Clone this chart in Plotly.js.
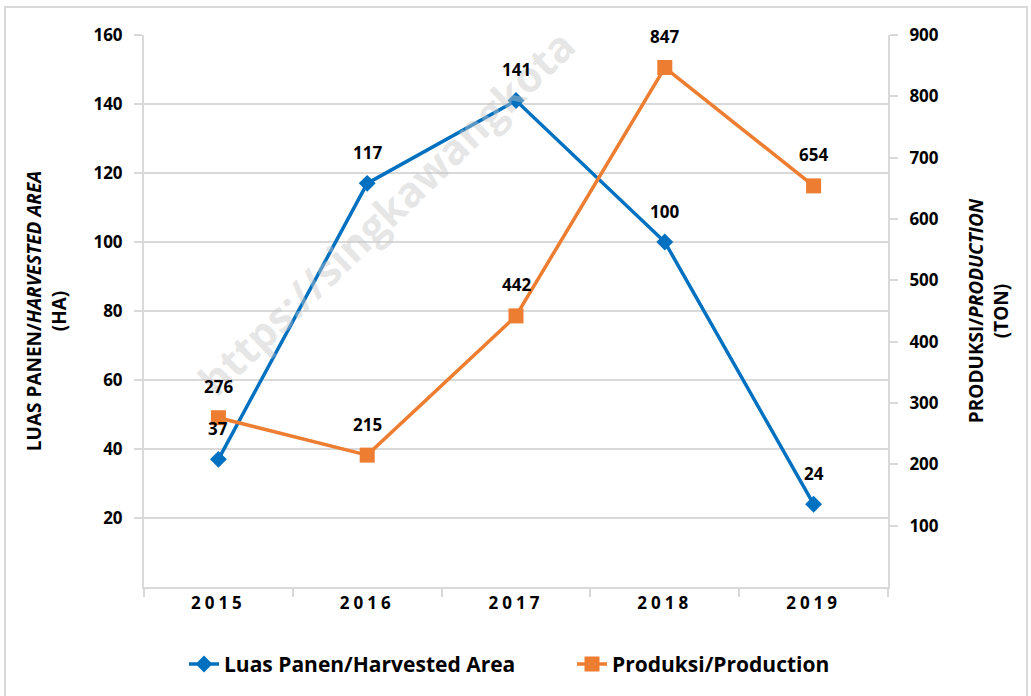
<!DOCTYPE html>
<html>
<head>
<meta charset="utf-8">
<script src="https://cdn.plot.ly/plotly-3.0.1.min.js"></script>
<style>
  html, body { margin: 0; padding: 0; background: #fff; }
  #chart { width: 1031px; height: 696px; }
  .xtick text { letter-spacing: 4px; }
</style>
</head>
<body>
<div id="chart"></div>
<script>
const years = ['2015', '2016', '2017', '2018', '2019'];
const harvestedArea = [37, 117, 141, 100, 24];
const production = [276, 215, 442, 847, 654];
const leftTicks = [20, 40, 60, 80, 100, 120, 140, 160];
const rightTicks = [100, 200, 300, 400, 500, 600, 700, 800, 900];

const FONT = 'Open Sans, Noto Sans, sans-serif';
const BLUE = '#0070C0';
const ORANGE = '#ED7D31';
const labelFont = () => ({family: FONT, size: 17, color: '#000', weight: 'bold'});
const legendFont = () => ({family: FONT, size: 21, color: '#000', weight: 'bold'});

const traces = [
  {
    x: years, y: harvestedArea, name: 'Luas Panen/Harvested Area',
    type: 'scatter', mode: 'lines+markers',
    line: {color: BLUE, width: 3.5},
    marker: {symbol: 'diamond', size: 13, color: BLUE},
    cliponaxis: false, yaxis: 'y', legend: 'legend', hoverinfo: 'x+y'
  },
  {
    x: years, y: production, name: 'Produksi/Production',
    type: 'scatter', mode: 'lines+markers',
    line: {color: ORANGE, width: 3.5},
    marker: {symbol: 'square', size: 15, color: ORANGE},
    cliponaxis: false, yaxis: 'y2', legend: 'legend2', hoverinfo: 'x+y'
  }
];

const dataLabels = [];
years.forEach((yr, i) => {
  dataLabels.push({x: i, y: harvestedArea[i], xref: 'x', yref: 'y', text: String(harvestedArea[i]),
    showarrow: false, xanchor: 'center', yanchor: 'middle', yshift: 31, font: labelFont()});
});
years.forEach((yr, i) => {
  dataLabels.push({x: i, y: production[i], xref: 'x', yref: 'y2', text: String(production[i]),
    showarrow: false, xanchor: 'center', yanchor: 'middle', yshift: 31, font: labelFont()});
});

const layout = {
  width: 1031, height: 696,
  margin: {l: 144, r: 143, t: 35, b: 109, autoexpand: false},
  paper_bgcolor: '#fff', plot_bgcolor: '#fff',
  font: {family: FONT, size: 17, color: '#000'},
  showlegend: true,
  legend: {
    orientation: 'h', x: (184 - 144) / 744, xanchor: 'left', y: -0.14, yanchor: 'middle',
    font: legendFont(), bgcolor: 'rgba(0,0,0,0)'
  },
  legend2: {
    orientation: 'h', x: (572 - 144) / 744, xanchor: 'left', y: -0.14, yanchor: 'middle',
    font: legendFont(), bgcolor: 'rgba(0,0,0,0)'
  },
  xaxis: {
    type: 'category', range: [-0.5, 4.5],
    showgrid: false, showline: true, linecolor: '#d9d9d9', linewidth: 2,
    ticks: 'outside', tickson: 'boundaries', ticklen: 8, tickcolor: '#d9d9d9', tickwidth: 2,
    tickfont: {family: FONT, size: 17, color: '#000', weight: 'bold'},
    zeroline: false, fixedrange: true
  },
  yaxis: {
    range: [0, 160], tickvals: leftTicks, ticktext: leftTicks.map(String),
    showgrid: true, gridcolor: '#d9d9d9', gridwidth: 2,
    showline: true, linecolor: '#d9d9d9', linewidth: 2,
    ticks: 'outside', ticklen: 8, tickcolor: '#d9d9d9', tickwidth: 2,
    ticklabelstandoff: 8,
    tickfont: {family: FONT, size: 17, color: '#000', weight: 'bold'},
    zeroline: false,
    title: {text: 'LUAS PANEN/<i>HARVESTED AREA</i><br>(HA)', font: {family: FONT, size: 19, color: '#000', weight: 'bold'}, standoff: 22}
  },
  yaxis2: {
    range: [0, 900], tickvals: rightTicks, ticktext: rightTicks.map(String),
    overlaying: 'y', side: 'right',
    showgrid: false, showline: true, linecolor: '#d9d9d9', linewidth: 2,
    ticks: 'outside', ticklen: 8, tickcolor: '#d9d9d9', tickwidth: 2,
    ticklabelstandoff: 8,
    tickfont: {family: FONT, size: 17, color: '#000', weight: 'bold'},
    zeroline: false,
    title: {text: 'PRODUKSI/<i>PRODUCTION</i><br>(TON)', font: {family: FONT, size: 19, color: '#000', weight: 'bold'}, standoff: 32}
  },
  shapes: [
    {type: 'rect', xref: 'paper', yref: 'paper', x0: -0.1868, x1: 1.1868, y0: -0.21, y1: 1.0507,
     line: {color: '#d9d9d9', width: 2}, fillcolor: 'rgba(0,0,0,0)', layer: 'below'}
  ],
  annotations: [
    {text: 'https://singkawangkota', xref: 'paper', yref: 'paper',
     x: (385 - 144) / 744, y: (587 - 212) / 552, xanchor: 'center', yanchor: 'middle',
     textangle: -44, showarrow: false,
     font: {family: FONT, size: 42, color: 'rgba(200,200,200,0.45)', weight: 'bold'}}
  ].concat(dataLabels)
};

Plotly.newPlot('chart', traces, layout, {displayModeBar: false, staticPlot: true});
</script>
</body>
</html>
